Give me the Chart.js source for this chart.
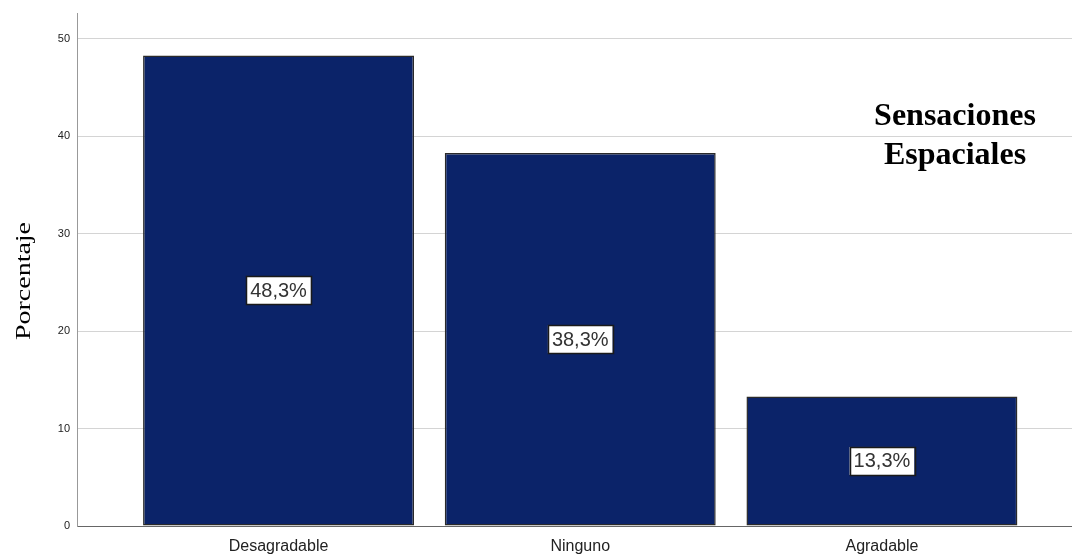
<!DOCTYPE html>
<html>
<head>
<meta charset="utf-8">
<script src="https://cdn.jsdelivr.net/npm/chart.js@4.4.1/dist/chart.umd.min.js"></script>
<style>
  html, body { margin: 0; padding: 0; background: #fff; }
  #wrap { width: 1072px; height: 558px; position: relative; }
</style>
</head>
<body>
<div id="wrap"><canvas id="mycanvas"></canvas></div>
<script>
// valores del gráfico
var categorias = ["Desagradable", "Ninguno", "Agradable"];
var porcentajes = [48.3, 38.3, 13.3];
var ticksY = [0, 10, 20, 30, 40, 50];
var titulo = ["Sensaciones", "Espaciales"];
var tituloEje = "Porcentaje";

var puntos = [];
for (var i in porcentajes) {
  puntos.push({ x: Number(i) + 1, y: porcentajes[i] });
}

// etiquetas con el valor dentro de cada barra
var etiquetas = {
  id: 'etiquetas',
  afterDatasetsDraw: function(chart) {
    var ctx = chart.ctx;
    var meta = chart.getDatasetMeta(0);
    ctx.save();
    ctx.font = '20px "Liberation Sans", Arial, sans-serif';
    ctx.textAlign = 'center';
    ctx.textBaseline = 'middle';
    meta.data.forEach(function(bar, k) {
      var txt = porcentajes[k].toFixed(1).replace('.', ',') + '%';
      var cy = (bar.y + bar.base) / 2;
      var w = ctx.measureText(txt).width + 8;
      var h = 28;
      ctx.fillStyle = '#ffffff';
      ctx.fillRect(bar.x - w / 2, cy - h / 2, w, h);
      ctx.strokeStyle = '#1a1a1a';
      ctx.lineWidth = 1.5;
      ctx.strokeRect(Math.round(bar.x - w / 2) + 0.5, Math.round(cy - h / 2) + 0.5, Math.round(w), h);
      ctx.fillStyle = '#333333';
      ctx.fillText(txt, bar.x, cy + 1);
    });
    ctx.restore();
  }
};

// título dentro del área y rótulo del eje Y (algo estirado)
var tituloPlugin = {
  id: 'tituloPlugin',
  afterDraw: function(chart) {
    var ctx = chart.ctx;
    ctx.save();
    ctx.font = 'bold 32px "Liberation Serif", "Times New Roman", serif';
    ctx.fillStyle = '#000000';
    ctx.textAlign = 'center';
    ctx.textBaseline = 'middle';
    ctx.fillText(titulo[0], 955, 117);
    ctx.fillText(titulo[1], 955, 156);
    ctx.restore();

    ctx.save();
    ctx.font = '21px "Liberation Serif", "Times New Roman", serif';
    ctx.fillStyle = '#000000';
    ctx.textAlign = 'center';
    ctx.textBaseline = 'middle';
    var ancho = ctx.measureText(tituloEje).width;
    ctx.translate(24, 281);
    ctx.rotate(-Math.PI / 2);
    ctx.scale(118 / ancho, 1);
    ctx.fillText(tituloEje, 0, 0);
    ctx.restore();
  }
};

var chartdata = {
  datasets: [{
    label: tituloEje,
    data: puntos,
    backgroundColor: '#0b2369',
    borderColor: '#2a2a2a',
    borderWidth: 1.5,
    borderSkipped: false,
    barPercentage: 0.898,
    categoryPercentage: 1
  }]
};

var ctx = document.getElementById('mycanvas');
var grafico = new Chart(ctx, {
  type: 'bar',
  data: chartdata,
  plugins: [etiquetas, tituloPlugin],
  options: {
    responsive: true,
    maintainAspectRatio: false,
    animation: false,
    layout: { padding: { top: 13, right: 0, left: 0, bottom: 0 } },
    plugins: { legend: { display: false }, tooltip: { enabled: false } },
    scales: {
      x: {
        type: 'linear',
        offset: false,
        min: 0.332,
        max: 3.63,
        grid: { display: false, drawTicks: false },
        border: { display: true, color: '#666666', width: 1 },
        afterBuildTicks: function(scale) {
          scale.ticks = categorias.map(function(c, k) { return { value: k + 1 }; });
        },
        afterFit: function(scale) { scale.height = 32; },
        ticks: {
          autoSkip: false,
          maxRotation: 0,
          padding: 11,
          color: '#222222',
          font: { family: '"Liberation Sans", Arial, sans-serif', size: 16 },
          callback: function(v) { return categorias[v - 1]; }
        }
      },
      y: {
        min: 0,
        max: 52.6,
        afterBuildTicks: function(scale) {
          scale.ticks = ticksY.map(function(v) { return { value: v }; });
        },
        afterFit: function(scale) { scale.width = 77; },
        grid: { color: '#d4d4d4', lineWidth: 1, drawTicks: false },
        border: { display: true, color: '#999999', width: 1 },
        ticks: {
          padding: 7,
          color: '#222222',
          font: { family: '"Liberation Sans", Arial, sans-serif', size: 11 }
        }
      }
    }
  }
});
</script>
</body>
</html>
